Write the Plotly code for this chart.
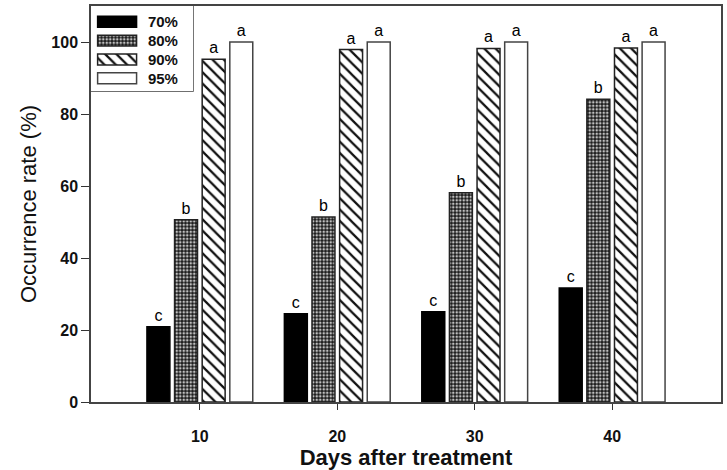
import plotly.graph_objects as go

days = [10, 20, 30, 40]
series_names = ["70%", "80%", "90%", "95%"]
v70 = [20.9, 24.5, 25.1, 31.7]
v80 = [50.6, 51.4, 58.1, 84.1]
v90 = [95.2, 97.9, 98.2, 98.3]
v95 = [100, 100, 100, 100]
letters70 = ["c", "c", "c", "c"]
letters80 = ["b", "b", "b", "b"]
letters90 = ["a", "a", "a", "a"]
letters95 = ["a", "a", "a", "a"]
y_ticks = [0, 20, 40, 60, 80, 100]

FONT = "Liberation Sans, Arial, sans-serif"
bar_w = 1.67
offsets = [-3.85, -1.84, 0.17, 2.18]

styles = [
    dict(color="black", pattern=None, line="black"),
    dict(color="#2a2a2a", pattern=dict(shape=".", bgcolor="#1a1a1a", fgcolor="#c0c0c0",
                                       size=3.5, solidity=0.45, fillmode="replace"), line="#222"),
    dict(color="white", pattern=dict(shape="\\", bgcolor="white", fgcolor="#111",
                                     size=8, solidity=0.28, fillmode="replace"), line="#222"),
    dict(color="white", pattern=None, line="#444"),
]

def make_marker(st):
    m = dict(color=st["color"], line=dict(color=st["line"], width=1.5))
    if st["pattern"]:
        m["pattern"] = st["pattern"]
    return m

fig = go.Figure()
for name, vals, txt, st, off in zip(series_names, [v70, v80, v90, v95],
                                    [letters70, letters80, letters90, letters95],
                                    styles, offsets):
    fig.add_trace(go.Bar(
        x=days, y=vals, name=name, width=bar_w, offset=off,
        marker=make_marker(st), text=txt, textposition="outside", cliponaxis=False,
        textfont=dict(family=FONT, size=16, color="black"),
        constraintext="none", showlegend=False,
    ))

# legend drawn as an inset: one wide swatch per series, with its name beside it
for name, st in zip(series_names, styles):
    fig.add_trace(go.Bar(
        y=[name], x=[1], orientation="h", width=0.58, base=0.17,
        marker=make_marker(st), xaxis="x2", yaxis="y2",
        text=[name], texttemplate="\u00a0\u00a0%{text}", textposition="outside",
        cliponaxis=False, constraintext="none",
        textfont=dict(family=FONT, size=15, color="#111", weight="bold"),
        showlegend=False, hoverinfo="skip",
    ))

legend_x1 = 0.162
legend_y0 = 0.785

fig.update_layout(
    width=727, height=470,
    margin=dict(l=91, r=5, t=4, b=66),
    plot_bgcolor="white", paper_bgcolor="white",
    showlegend=False,
    shapes=[dict(type="rect", xref="paper", yref="paper", x0=0, x1=legend_x1,
                 y0=legend_y0, y1=1, line=dict(color="#222", width=1.2),
                 fillcolor="white", layer="below")],
    xaxis=dict(range=[2.08, 47.92], tickvals=days, ticktext=[str(d) for d in days],
               ticks="outside", ticklen=6, tickcolor="#333", showgrid=False,
               showline=True, linecolor="#444", linewidth=1.5, mirror=True,
               zeroline=False, ticklabelstandoff=13,
               tickfont=dict(family=FONT, size=16, color="#111", weight="bold"),
               title=dict(text="Days after treatment", standoff=6,
                          font=dict(family=FONT, size=22, color="#111", weight="bold"))),
    yaxis=dict(range=[0, 110], tickvals=y_ticks,
               ticks="outside", ticklen=8, tickcolor="#333", showgrid=False,
               showline=True, linecolor="#444", linewidth=1.5, mirror=True,
               zeroline=False,
               tickfont=dict(family=FONT, size=16, color="#111", weight="bold"),
               title=dict(text="Occurrence rate (%)", standoff=9,
                          font=dict(family=FONT, size=22, color="#111"))),
    xaxis2=dict(domain=[0, legend_x1], range=[0, 2.62], visible=False, anchor="y2"),
    yaxis2=dict(domain=[legend_y0, 1], range=[3.68, -0.84], visible=False, anchor="x2",
                type="category"),
)

fig.write_html("out.html")
